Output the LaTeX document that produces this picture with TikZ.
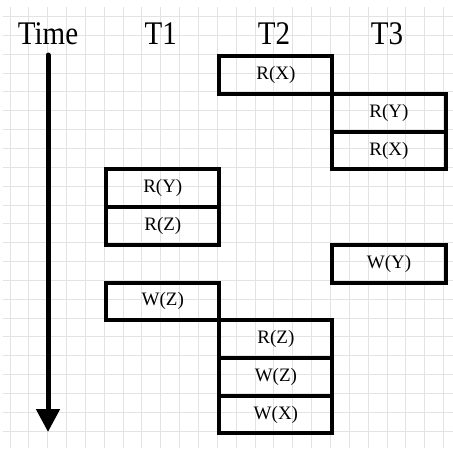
\documentclass[tikz,border=0pt]{standalone}
\usepackage{fontspec}
\setmainfont{Liberation Serif}
\usetikzlibrary{arrows.meta}
\begin{document}
\begin{tikzpicture}[x=1pt,y=-1pt,
  gridline/.style={black!11, line width=1pt},
  opbox/.style={draw=black, line width=4pt, fill=none, inner sep=0pt,
    minimum width=113.1pt, minimum height=37.7pt, anchor=north west,
    font=\fontsize{19}{19}\selectfont},
  title/.style={anchor=base, inner sep=0pt, font=\fontsize{33}{33}\selectfont},
  timearrow/.style={line width=5pt, line cap=round, -{Triangle[length=23pt,width=23pt]}}
]
\useasboundingbox (0,0) rectangle (453,448);
% grid
\foreach \i in {0,...,23} {
  \draw[gridline] (10+18.85*\i,7) -- (10+18.85*\i,448);
}
\foreach \j in {0,...,22} {
  \draw[gridline] (3,16.5+18.85*\j) -- (453,16.5+18.85*\j);
}
% titles
\node[title] (time) at (48,44) {\scalebox{0.88}[1]{Time}};
\node[title] (t1) at (160.8,44) {\scalebox{0.88}[1]{T1}};
\node[title] (t2) at (273.9,44) {\scalebox{0.88}[1]{T2}};
\node[title] (t3) at (387,44) {\scalebox{0.88}[1]{T3}};
% time arrow
\coordinate (atop) at (48,55);
\coordinate (abot) at (48,432);
\draw[timearrow] (atop) -- (abot);
% T2 first
\node[opbox] (t2rx) at (217.35,54.2) {R(X)};
% T3
\node[opbox] (t3ry) at (330.45,92) {R(Y)};
\node[opbox] (t3rx) at (330.45,129.7) {R(X)};
% T1
\node[opbox] (t1ry) at (104.25,167.4) {R(Y)};
\node[opbox] (t1rz) at (104.25,205.1) {R(Z)};
% T3 write
\node[opbox] (t3wy) at (330.45,242.8) {W(Y)};
% T1 write
\node[opbox] (t1wz) at (104.25,280.5) {W(Z)};
% T2 rest
\node[opbox] (t2rz) at (217.35,318.2) {R(Z)};
\node[opbox] (t2wz) at (217.35,355.9) {W(Z)};
\node[opbox] (t2wx) at (217.35,393.6) {W(X)};
\end{tikzpicture}
\end{document}
